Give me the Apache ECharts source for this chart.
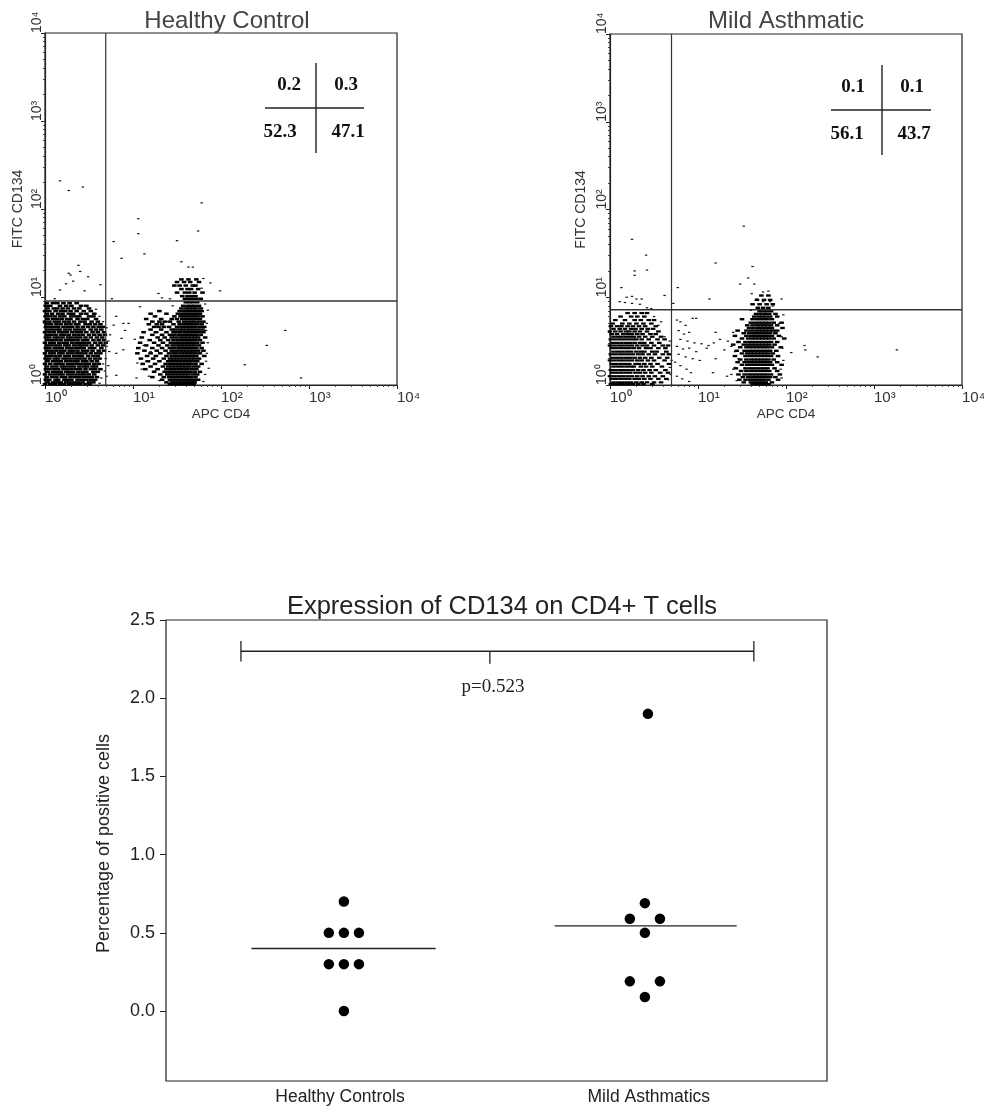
<!DOCTYPE html>
<html><head><meta charset="utf-8">
<style>html,body{margin:0;padding:0;background:#fff}#c{width:984px;height:1112px}</style>
<script src="https://cdn.jsdelivr.net/npm/echarts@6/dist/echarts.min.js"></script>
</head><body><div id="c"></div>
<script>
// Flow panels: positions read in decades (log10) off the pictured axes.
const minorTickValues = [2,3,4,5,6,7,8,9,20,30,40,50,60,70,80,90,200,300,400,500,600,700,800,900,2000,3000,4000,5000,6000,7000,8000,9000];
const supers = ['⁰','¹','²','³','⁴'];

// Each row: [y decade, [x decades ...]]
const hcLeftRows = [
[.93,[.02,.09,.14,.21,.28,.36]],
[.9,[.01,.06,.17,.24,.3,.41,.47]],
[.87,[.03,.1,.14,.2,.26,.33,.39,.5]],
[.84,[0,.05,.12,.18,.23,.29,.36,.44,.52]],
[.81,[.02,.08,.15,.2,.27,.32,.41,.47,.56]],
[.78,[.01,.06,.11,.17,.22,.3,.35,.39,.5,.55]],
[.75,[.03,.09,.14,.19,.25,.29,.37,.43,.48,.58]],
[.72,[0,.05,.11,.16,.22,.27,.33,.4,.45,.53,.6]],
[.69,[.02,.07,.13,.18,.24,.29,.35,.38,.46,.51,.57,.63]],
[.66,[.01,.06,.1,.15,.21,.26,.31,.37,.43,.49,.55,.61,.66]],
[.63,[.03,.08,.13,.17,.23,.28,.34,.39,.44,.52,.58,.64]],
[.6,[0,.05,.1,.16,.2,.25,.31,.36,.41,.47,.54,.6,.67]],
[.57,[.02,.07,.12,.18,.22,.27,.33,.38,.43,.5,.56,.62,.68]],
[.54,[.01,.05,.11,.15,.2,.26,.3,.35,.4,.46,.52,.59,.65]],
[.51,[.03,.08,.13,.18,.24,.28,.32,.37,.43,.48,.55,.61,.67]],
[.48,[0,.06,.1,.16,.21,.25,.31,.36,.41,.45,.5,.57,.63,.69]],
[.45,[.02,.07,.12,.17,.23,.27,.33,.38,.42,.47,.53,.6,.66]],
[.42,[.01,.05,.11,.15,.19,.25,.3,.35,.4,.44,.51,.56,.64]],
[.39,[.03,.08,.13,.18,.22,.28,.32,.37,.43,.48,.54,.61,.67]],
[.36,[0,.06,.1,.16,.2,.26,.31,.36,.41,.46,.52,.58,.63]],
[.33,[.02,.07,.12,.17,.23,.27,.33,.38,.42,.49,.55,.6]],
[.3,[.01,.05,.11,.15,.21,.25,.3,.35,.4,.45,.51,.57,.62]],
[.27,[.03,.09,.14,.18,.24,.29,.34,.37,.43,.47,.53,.59]],
[.24,[0,.06,.12,.16,.2,.26,.31,.36,.41,.46,.5,.56,.61]],
[.21,[.02,.08,.13,.19,.23,.28,.33,.39,.44,.48,.54,.58]],
[.18,[.01,.05,.1,.15,.21,.25,.3,.35,.4,.46,.52,.57,.63]],
[.15,[.03,.09,.14,.18,.24,.27,.32,.38,.43,.47,.55,.6]],
[.12,[0,.06,.11,.16,.2,.26,.31,.36,.41,.45,.5,.56]],
[.09,[.02,.08,.13,.19,.23,.29,.34,.39,.44,.49,.53,.59]],
[.06,[.01,.05,.12,.15,.22,.25,.3,.37,.42,.47,.52,.57]],
[.03,[.03,.09,.14,.18,.24,.28,.33,.38,.43,.5,.55]],
[.01,[0,.06,.11,.17,.21,.27,.31,.36,.4,.46,.51]]
];
const hcRightRows = [
[1.2,[1.55,1.63,1.72]],
[1.17,[1.5,1.58,1.65,1.75]],
[1.13,[1.47,1.53,1.6,1.68,1.71]],
[1.09,[1.55,1.62,1.66,1.74]],
[1.05,[1.5,1.59,1.64,1.7,1.79]],
[1.01,[1.56,1.62,1.67,1.71]],
[.98,[1.59,1.63,1.67,1.72,1.77]],
[.94,[1.6,1.64,1.68,1.73]],
[.9,[1.57,1.62,1.66,1.7,1.75]],
[.87,[1.55,1.6,1.64,1.68,1.72,1.77]],
[.84,[1.3,1.53,1.58,1.62,1.66,1.7,1.74,1.78]],
[.81,[1.2,1.38,1.51,1.56,1.6,1.64,1.68,1.72,1.76]],
[.78,[1.25,1.47,1.54,1.58,1.62,1.66,1.7,1.74,1.79]],
[.75,[1.15,1.32,1.44,1.5,1.56,1.6,1.64,1.68,1.72,1.76]],
[.72,[1.22,1.3,1.36,1.42,1.52,1.58,1.62,1.66,1.7,1.75,1.8]],
[.69,[1.18,1.27,1.33,1.46,1.53,1.57,1.61,1.65,1.69,1.73,1.78]],
[.66,[1.24,1.29,1.35,1.41,1.5,1.55,1.59,1.63,1.67,1.71,1.76,1.81]],
[.63,[1.2,1.32,1.44,1.48,1.53,1.57,1.61,1.65,1.69,1.74,1.79]],
[.6,[1.12,1.26,1.38,1.46,1.5,1.54,1.59,1.63,1.67,1.71,1.75,1.8]],
[.57,[1.22,1.33,1.42,1.47,1.52,1.56,1.6,1.64,1.68,1.72,1.77]],
[.54,[1.1,1.28,1.36,1.44,1.49,1.54,1.58,1.62,1.66,1.7,1.74,1.82]],
[.51,[1.19,1.31,1.4,1.46,1.51,1.55,1.59,1.63,1.67,1.71,1.76]],
[.48,[1.08,1.24,1.34,1.43,1.48,1.52,1.56,1.6,1.64,1.68,1.73,1.79]],
[.45,[1.15,1.29,1.39,1.45,1.5,1.54,1.58,1.62,1.66,1.7,1.75]],
[.42,[1.06,1.22,1.33,1.42,1.47,1.52,1.56,1.6,1.64,1.68,1.72,1.78]],
[.39,[1.13,1.27,1.37,1.44,1.49,1.53,1.57,1.61,1.65,1.69,1.74,1.8]],
[.36,[1.05,1.2,1.31,1.41,1.46,1.5,1.55,1.59,1.63,1.67,1.71,1.76]],
[.33,[1.16,1.26,1.38,1.44,1.48,1.52,1.56,1.6,1.64,1.68,1.72,1.81]],
[.3,[1.09,1.23,1.35,1.42,1.46,1.5,1.54,1.58,1.62,1.66,1.7,1.75]],
[.27,[1.17,1.3,1.4,1.44,1.48,1.52,1.56,1.6,1.64,1.68,1.73]],
[.24,[1.11,1.25,1.37,1.42,1.46,1.5,1.54,1.58,1.62,1.66,1.71,1.78]],
[.21,[1.2,1.34,1.4,1.44,1.48,1.52,1.56,1.6,1.64,1.69,1.74]],
[.18,[1.14,1.28,1.38,1.42,1.46,1.5,1.54,1.58,1.62,1.67,1.72]],
[.15,[1.24,1.36,1.41,1.45,1.49,1.53,1.57,1.61,1.65,1.7,1.76]],
[.12,[1.31,1.39,1.43,1.47,1.51,1.55,1.59,1.63,1.68,1.73]],
[.09,[1.22,1.35,1.41,1.45,1.49,1.53,1.57,1.61,1.66,1.71]],
[.06,[1.33,1.42,1.46,1.5,1.54,1.58,1.62,1.65,1.69,1.74]],
[.03,[1.38,1.44,1.48,1.52,1.56,1.6,1.63,1.67,1.7]],
[.01,[1.42,1.46,1.5,1.54,1.58,1.62,1.66,1.69]]
];
const hcSparse = [[.17,2.32],[.27,2.21],[.43,2.25],[1.78,2.07],[1.06,1.89],[1.06,1.72],[1.74,1.75],[1.5,1.64],[.78,1.63],[.87,1.44],[1.13,1.49],[1.55,1.4],[1.63,1.34],[1.68,1.34],[.38,1.36],[.27,1.27],[.29,1.25],[.4,1.29],[.49,1.23],[.32,1.18],[.24,1.15],[.17,1.08],[.45,1.07],[.63,1.14],[.11,.98],[.76,.98],[1.29,1.04],[1.33,.99],[1.42,.98],[1.99,1.07],[1.88,1.16],[1.8,1.21],[2.73,.62],[2.52,.45],[2.27,.23],[2.91,.08],[1.04,.08],[.81,.78],[.89,.7],[.95,.7],[.91,.62],[.78,.68],[.74,.57],[.87,.53],[.81,.36],[.89,.4],[.81,.11],[1.08,.89],[1.84,.7],[1.86,.19],
[.7,.65],[.72,.5],[.7,.44],[.73,.38],[.69,.3],[.66,.24],[.68,.16],[.64,.08],[.62,.02],[.72,.22],[.7,.1],[.66,.72],[.62,.78],[.58,.86],[1.83,.62],[1.85,.48],[1.84,.36],[1.83,.27],[1.82,.12],[1.8,.04],[1.85,.85],[1.82,.92],[1.78,1.1],[1.45,.9],[1.4,.72],[1.28,.6],[1.2,.38],[1.15,.27],[1.25,.16],[1.18,.1],[1.3,.05],[1.12,.45],[1.05,.25],[1.1,.18],[1.02,.52]];

const maLeftRows = [
[.82,[.2,.28,.36,.42]],
[.78,[.12,.24,.31,.39]],
[.74,[.06,.17,.28,.35,.44,.5]],
[.7,[.03,.14,.22,.3,.38,.47]],
[.67,[.01,.08,.13,.2,.26,.33,.4,.52]],
[.64,[.04,.11,.17,.24,.29,.36,.43,.49]],
[.61,[0,.06,.12,.18,.22,.28,.34,.42,.55]],
[.58,[.02,.08,.15,.2,.25,.31,.37,.46,.52]],
[.55,[.04,.09,.13,.18,.23,.27,.33,.4,.48,.58]],
[.52,[.01,.06,.11,.16,.21,.26,.3,.36,.44,.54,.62]],
[.48,[.03,.08,.13,.18,.23,.28,.34,.39,.47,.56]],
[.45,[0,.05,.1,.15,.2,.25,.31,.37,.42,.5,.6,.66]],
[.42,[.02,.07,.12,.17,.22,.27,.33,.41,.46,.55,.63]],
[.38,[.04,.09,.14,.19,.24,.3,.35,.39,.48,.53,.64]],
[.35,[.01,.06,.11,.16,.21,.26,.32,.37,.44,.51,.6,.67]],
[.31,[.03,.08,.13,.18,.23,.28,.34,.4,.47,.56,.65]],
[.28,[0,.05,.1,.15,.2,.25,.31,.36,.43,.5,.62]],
[.24,[.02,.07,.12,.17,.22,.29,.33,.39,.46,.54,.67]],
[.21,[.04,.09,.14,.19,.24,.27,.35,.41,.48,.59]],
[.17,[.01,.06,.11,.16,.21,.26,.32,.38,.45,.52,.63]],
[.14,[.03,.08,.13,.18,.23,.29,.34,.4,.47,.57,.66]],
[.1,[0,.05,.1,.15,.2,.25,.31,.37,.44,.51,.6]],
[.07,[.02,.07,.12,.17,.22,.28,.33,.39,.46,.55,.64]],
[.03,[.04,.09,.14,.19,.24,.3,.36,.42,.5,.58]],
[.01,[.01,.06,.11,.16,.21,.26,.32,.38,.48]]
];
const maRightRows = [
[1.02,[1.72,1.8]],
[.97,[1.67,1.75,1.82]],
[.92,[1.62,1.7,1.78,1.85]],
[.88,[1.68,1.74,1.8]],
[.84,[1.7,1.74,1.78,1.83]],
[.81,[1.66,1.71,1.76,1.81,1.88]],
[.78,[1.64,1.69,1.73,1.77,1.82,1.9]],
[.75,[1.5,1.62,1.67,1.71,1.75,1.79,1.84]],
[.71,[1.6,1.65,1.69,1.73,1.77,1.81,1.86,1.95]],
[.68,[1.56,1.62,1.67,1.71,1.75,1.79,1.83,1.9]],
[.65,[1.58,1.63,1.68,1.72,1.76,1.8,1.84,1.96]],
[.62,[1.45,1.55,1.6,1.65,1.69,1.73,1.77,1.81,1.85,1.9]],
[.59,[1.52,1.58,1.62,1.66,1.7,1.74,1.78,1.82,1.88]],
[.56,[1.42,1.55,1.6,1.64,1.68,1.72,1.76,1.8,1.84,1.92]],
[.53,[1.5,1.57,1.61,1.65,1.69,1.73,1.77,1.81,1.86,1.98]],
[.49,[1.46,1.54,1.59,1.63,1.67,1.71,1.75,1.79,1.83,1.9]],
[.46,[1.4,1.52,1.57,1.61,1.65,1.69,1.73,1.77,1.81,1.87]],
[.43,[1.48,1.55,1.59,1.63,1.67,1.71,1.75,1.79,1.84,1.94]],
[.39,[1.44,1.53,1.58,1.62,1.66,1.7,1.74,1.78,1.82,1.89]],
[.36,[1.5,1.56,1.6,1.64,1.68,1.72,1.76,1.8,1.85]],
[.33,[1.42,1.54,1.59,1.63,1.67,1.71,1.75,1.79,1.83,1.91]],
[.29,[1.48,1.55,1.6,1.64,1.68,1.72,1.76,1.8,1.86]],
[.26,[1.45,1.53,1.58,1.62,1.66,1.7,1.74,1.78,1.82,1.9]],
[.23,[1.5,1.56,1.6,1.64,1.68,1.72,1.76,1.8,1.84,1.95]],
[.19,[1.43,1.54,1.59,1.63,1.67,1.71,1.75,1.79,1.87]],
[.16,[1.49,1.55,1.6,1.64,1.68,1.72,1.76,1.81,1.9]],
[.12,[1.46,1.53,1.58,1.62,1.66,1.7,1.74,1.78,1.83,1.93]],
[.09,[1.51,1.57,1.61,1.65,1.69,1.73,1.77,1.82,1.88]],
[.06,[1.47,1.54,1.59,1.63,1.67,1.71,1.75,1.8,1.91]],
[.03,[1.52,1.6,1.65,1.69,1.73,1.77,1.84]],
[.01,[1.62,1.67,1.71,1.75,1.8]]
];
const maSparse = [[.25,1.66],[.41,1.48],[.28,1.3],[.28,1.25],[.42,1.31],[.13,1.11],[1.52,1.81],[1.2,1.39],[1.62,1.35],[1.57,1.22],[1.48,1.15],[1.64,1.15],[.77,1.11],[.62,1.02],[1.13,.98],[.72,.93],[3.26,.4],[2.36,.32],[2.21,.45],[2.22,.4],[2.06,.37],[1.97,.8],[1.95,.98],[1.8,1.07],[1.74,1.06],[1.61,1.04],[1.67,.98],[1.74,.95],[1.82,.95],[.19,1],[.25,1.01],[.3,.98],[.36,.98],[.11,.95],[.17,.94],[.25,.93],[.34,.92],[.42,.88],[.47,.87],[.76,.74],[.8,.72],[.86,.68],[.94,.76],[.98,.76],[.78,.62],[.84,.58],[.9,.6],[.8,.52],[.88,.5],[.96,.48],[1.04,.47],[1.12,.45],[1.18,.48],[.76,.44],[.83,.41],[.9,.42],[.98,.38],[1.1,.42],[.78,.35],[.86,.32],[.94,.3],[1.02,.28],[1.2,.3],[.74,.26],[.8,.22],[.87,.18],[.92,.14],[1.17,.14],[.76,.1],[.82,.07],[.9,.04],[1.3,.4],[1.34,.5],[1.38,.44],[1.25,.52],[1.42,.38],[1.46,.3],[1.33,.1],[1.4,.18],[1.2,.6],
[.68,.5],[.66,.36],[.7,.28],[.68,.2],[.69,.12],[.66,.06],[.58,.72],[.5,.78],[.55,.68],[.62,.55],[1.92,.7],[1.95,.55],[1.96,.42],[1.97,.28],[1.94,.18],[1.95,.08],[1.4,.6],[1.42,.2],[1.38,.12],[1.44,.05],[1.85,.9],[1.6,.85]];

const hcGateX = 4.9, hcGateY = 9.0, maGateX = 5.0, maGateY = 7.2;

// Dot plot
const groups = ['Healthy Controls', 'Mild Asthmatics'];
const healthyDots = [[1,.7],[.95,.5],[1,.5],[1.05,.5],[.95,.3],[1,.3],[1.05,.3],[1,0]];
const asthmaticDots = [[2.01,1.9],[2,.69],[1.95,.59],[2.05,.59],[2,.5],[1.95,.19],[2.05,.19],[2,.09]];
const healthyMean = 0.4, asthmaticMean = 0.545;
const dotTicks = [0, .5, 1, 1.5, 2, 2.5];
const pText = 'p=0.523';

const rowsToPoints = rows => rows.flatMap(([y, xs]) => xs.map(x => [10 ** x, 10 ** y]));
const decades = pts => pts.map(([x, y]) => [10 ** x, 10 ** y]);
const FONT = '"Liberation Sans",Arial,sans-serif';
const SERIF = '"Liberation Serif","Times New Roman",serif';

const flowX = i => ({gridIndex:i,type:'log',logBase:10,min:1,max:10000,name:'APC CD4',nameLocation:'middle',nameGap:22,
  nameTextStyle:{fontFamily:FONT,fontSize:13.5,color:'#333'},
  axisLine:{show:true,onZero:false,lineStyle:{color:'#222',width:1.2}},
  axisTick:{show:true,length:4,lineStyle:{color:'#222'}},
  minorTick:{show:false},splitLine:{show:false},
  axisLabel:{fontFamily:FONT,fontSize:15,color:'#333',align:'left',margin:5,showMinLabel:true,showMaxLabel:true,
    formatter:v=>'10'+supers[Math.round(Math.log10(v))]}});
const flowY = (i, gap) => ({gridIndex:i,type:'log',logBase:10,min:1,max:10000,name:'FITC CD134',nameLocation:'middle',nameGap:gap,
  nameTextStyle:{fontFamily:FONT,fontSize:14,color:'#333'},
  axisLine:{show:true,onZero:false,lineStyle:{color:'#222',width:1.2}},
  axisTick:{show:true,length:4,lineStyle:{color:'#222'}},
  minorTick:{show:false},splitLine:{show:false},
  axisLabel:{fontFamily:FONT,fontSize:14,color:'#333',rotate:90,align:'left',verticalAlign:'middle',margin:8,showMinLabel:true,showMaxLabel:true,
    formatter:v=>'10'+supers[Math.round(Math.log10(v))]}});
// overlay axes that carry only the short log minor ticks
const minorX = i => ({gridIndex:i,type:'log',logBase:10,min:1,max:10000,position:'bottom',axisLine:{show:false},
  axisTick:{show:true,length:2,customValues:minorTickValues,lineStyle:{color:'#444'}},axisLabel:{show:false},splitLine:{show:false}});
const minorY = i => ({gridIndex:i,type:'log',logBase:10,min:1,max:10000,position:'left',axisLine:{show:false},
  axisTick:{show:true,length:2,customValues:minorTickValues,lineStyle:{color:'#444'}},axisLabel:{show:false},splitLine:{show:false}});

const dense = (i, data, h) => ({type:'scatter',xAxisIndex:i,yAxisIndex:i,data,symbol:'rect',symbolSize:[4.6,h],itemStyle:{color:'#000',opacity:1},silent:true,animation:false});
const sparse = (i, data) => ({type:'scatter',xAxisIndex:i,yAxisIndex:i,data,symbol:'rect',symbolSize:[2.4,1.2],itemStyle:{color:'#111',opacity:1},silent:true,animation:false});
const seg = (xi, yi, data, w, c) => ({type:'line',xAxisIndex:xi,yAxisIndex:yi,data,symbol:'none',lineStyle:{color:c||'#222',width:w||1},silent:true,animation:false});
const gate = (i, gx, gy) => [seg(i,i,[[gx,1],[gx,10000]],1.2,'#333'), seg(i,i,[[1,gy],[10000,gy]],1.4,'#333')];

const txt = (x, y, text, style) => ({type:'text',x,y,style:Object.assign({text,align:'center',verticalAlign:'middle',fill:'#111'},style)});
const line = (x1,y1,x2,y2) => ({type:'line',shape:{x1,y1,x2,y2},style:{stroke:'#222',lineWidth:1.4}});
const insetFont = {fontFamily:SERIF,fontSize:19,fontWeight:'bold'};

const chart = echarts.init(document.getElementById('c'), null, {renderer:'canvas'});
const option = {
  animation:false, backgroundColor:'#fff',
  title:[
    {text:'Healthy Control',left:222,top:4,textAlign:'center',textStyle:{fontFamily:FONT,fontSize:24,fontWeight:'normal',color:'#444'}},
    {text:'Mild Asthmatic',left:781,top:4,textAlign:'center',textStyle:{fontFamily:FONT,fontSize:24,fontWeight:'normal',color:'#444'}},
    {text:'Expression of CD134 on CD4+ T cells',left:497,top:589,textAlign:'center',textStyle:{fontFamily:FONT,fontSize:25.5,fontWeight:'normal',color:'#222'}}
  ],
  grid:[
    {left:45,top:33,width:352,height:352,show:true,borderColor:'#222',borderWidth:1.2,backgroundColor:'transparent',outerBoundsMode:'none'},
    {left:610,top:34,width:352,height:351,show:true,borderColor:'#222',borderWidth:1.2,backgroundColor:'transparent',outerBoundsMode:'none'},
    {left:166,top:620,width:661,height:461,show:true,borderColor:'#222',borderWidth:1.2,backgroundColor:'transparent',outerBoundsMode:'none'}
  ],
  xAxis:[flowX(0),flowX(1),
    {gridIndex:2,type:'value',min:.409,max:2.605,axisLine:{show:false},axisTick:{show:false},splitLine:{show:false},
     axisLabel:{customValues:[.987,2.013],formatter:v=>v<1.5?groups[0]:groups[1],fontFamily:FONT,fontSize:17.5,color:'#222',margin:7,hideOverlap:false}},
    minorX(0),minorX(1)],
  yAxis:[flowY(0,20),flowY(1,22),
    {gridIndex:2,type:'value',min:-.447,max:2.5,splitLine:{show:false},name:'Percentage of positive cells',nameLocation:'middle',nameGap:53,
     nameTextStyle:{fontFamily:FONT,fontSize:18,color:'#222',padding:[0,0,0,14]},
     axisLine:{show:false},axisTick:{show:true,length:6,customValues:dotTicks,lineStyle:{color:'#222'}},
     axisLabel:{customValues:dotTicks,formatter:v=>v.toFixed(1),fontFamily:FONT,fontSize:18,color:'#222',margin:11}},
    minorY(0),minorY(1)],
  series:[
    dense(0,rowsToPoints(hcLeftRows),2.5),dense(0,rowsToPoints(hcRightRows),2.5),sparse(0,decades(hcSparse)),...gate(0,hcGateX,hcGateY),
    dense(1,rowsToPoints(maLeftRows),2.2),dense(1,rowsToPoints(maRightRows),2.4),sparse(1,decades(maSparse)),...gate(1,maGateX,maGateY),
    {type:'scatter',xAxisIndex:2,yAxisIndex:2,data:healthyDots,symbol:'circle',symbolSize:10.5,itemStyle:{color:'#000',opacity:1},silent:true},
    {type:'scatter',xAxisIndex:2,yAxisIndex:2,data:asthmaticDots,symbol:'circle',symbolSize:10.5,itemStyle:{color:'#000',opacity:1},silent:true},
    seg(2,2,[[.693,healthyMean],[1.305,healthyMean]],1.3),
    seg(2,2,[[1.70,asthmaticMean],[2.305,asthmaticMean]],1.3),
    seg(2,2,[[.658,2.3],[2.362,2.3]],1.4),
    seg(2,2,[[.658,2.365],[.658,2.235]],1.3),
    seg(2,2,[[2.362,2.365],[2.362,2.235]],1.3),
    seg(2,2,[[1.485,2.3],[1.485,2.22]],1.3)
  ],
  graphic:[
    line(316,63,316,153),line(265,108,364,108),
    txt(289,85,'0.2',insetFont),txt(346,85,'0.3',insetFont),txt(280,132,'52.3',insetFont),txt(348,132,'47.1',insetFont),
    line(882,65,882,155),line(831,110,931,110),
    txt(853,87,'0.1',insetFont),txt(912,87,'0.1',insetFont),txt(847,134,'56.1',insetFont),txt(914,134,'43.7',insetFont),
    txt(493,687,pText,{fontFamily:SERIF,fontSize:19,fill:'#222'})
  ]
};
chart.setOption(option);
</script></body></html>
